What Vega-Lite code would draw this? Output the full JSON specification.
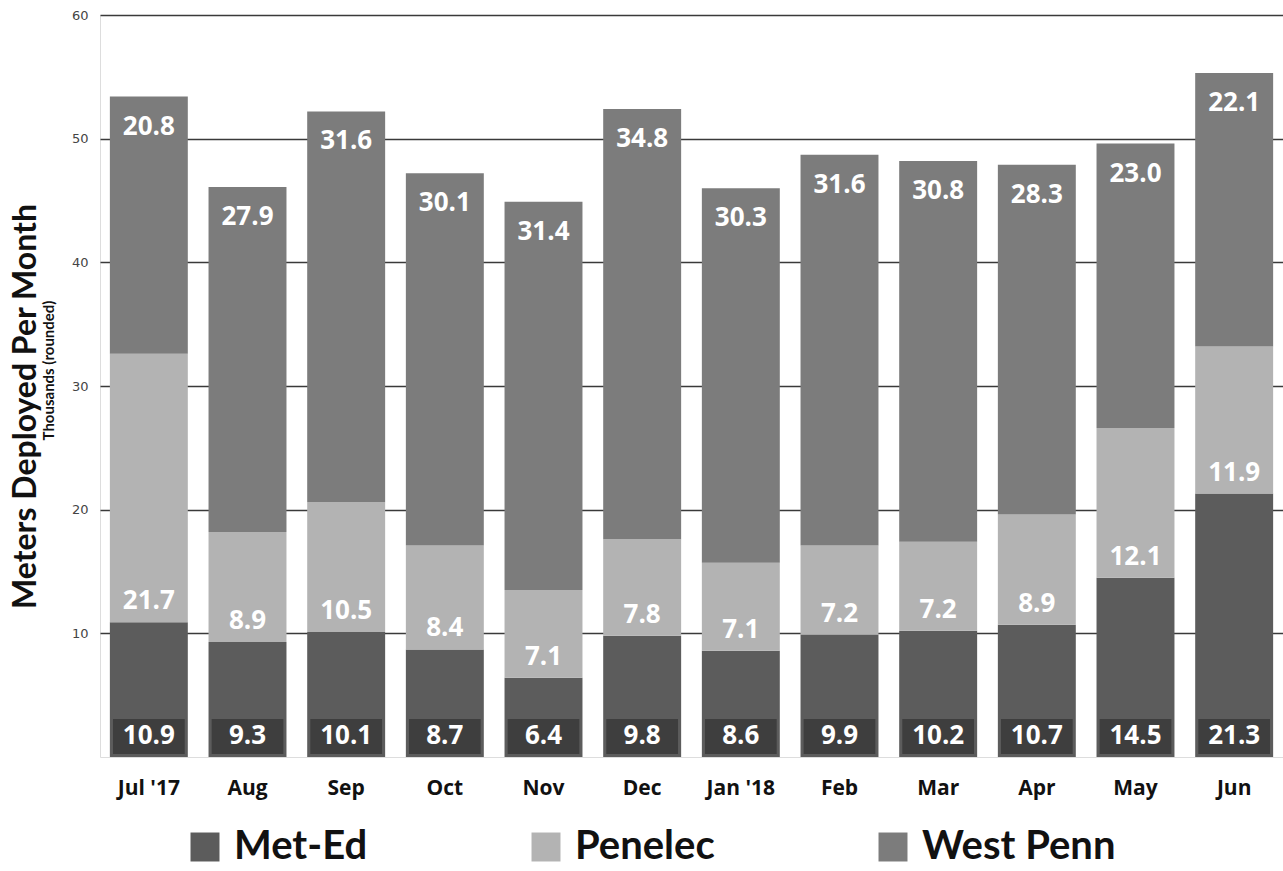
{
  "$schema": "https://vega.github.io/schema/vega-lite/v6.json",
  "width": 1183,
  "height": 742,
  "autosize": "none",
  "padding": {"left": 100, "top": 15, "right": 0, "bottom": 114},
  "background": "white",
  "data": {
    "values": [
      {"month": "Jul '17", "company": "Met-Ed", "order": 1, "value": 10.9},
      {"month": "Jul '17", "company": "Penelec", "order": 2, "value": 21.7},
      {"month": "Jul '17", "company": "West Penn", "order": 3, "value": 20.8},
      {"month": "Aug", "company": "Met-Ed", "order": 1, "value": 9.3},
      {"month": "Aug", "company": "Penelec", "order": 2, "value": 8.9},
      {"month": "Aug", "company": "West Penn", "order": 3, "value": 27.9},
      {"month": "Sep", "company": "Met-Ed", "order": 1, "value": 10.1},
      {"month": "Sep", "company": "Penelec", "order": 2, "value": 10.5},
      {"month": "Sep", "company": "West Penn", "order": 3, "value": 31.6},
      {"month": "Oct", "company": "Met-Ed", "order": 1, "value": 8.7},
      {"month": "Oct", "company": "Penelec", "order": 2, "value": 8.4},
      {"month": "Oct", "company": "West Penn", "order": 3, "value": 30.1},
      {"month": "Nov", "company": "Met-Ed", "order": 1, "value": 6.4},
      {"month": "Nov", "company": "Penelec", "order": 2, "value": 7.1},
      {"month": "Nov", "company": "West Penn", "order": 3, "value": 31.4},
      {"month": "Dec", "company": "Met-Ed", "order": 1, "value": 9.8},
      {"month": "Dec", "company": "Penelec", "order": 2, "value": 7.8},
      {"month": "Dec", "company": "West Penn", "order": 3, "value": 34.8},
      {"month": "Jan '18", "company": "Met-Ed", "order": 1, "value": 8.6},
      {"month": "Jan '18", "company": "Penelec", "order": 2, "value": 7.1},
      {"month": "Jan '18", "company": "West Penn", "order": 3, "value": 30.3},
      {"month": "Feb", "company": "Met-Ed", "order": 1, "value": 9.9},
      {"month": "Feb", "company": "Penelec", "order": 2, "value": 7.2},
      {"month": "Feb", "company": "West Penn", "order": 3, "value": 31.6},
      {"month": "Mar", "company": "Met-Ed", "order": 1, "value": 10.2},
      {"month": "Mar", "company": "Penelec", "order": 2, "value": 7.2},
      {"month": "Mar", "company": "West Penn", "order": 3, "value": 30.8},
      {"month": "Apr", "company": "Met-Ed", "order": 1, "value": 10.7},
      {"month": "Apr", "company": "Penelec", "order": 2, "value": 8.9},
      {"month": "Apr", "company": "West Penn", "order": 3, "value": 28.3},
      {"month": "May", "company": "Met-Ed", "order": 1, "value": 14.5},
      {"month": "May", "company": "Penelec", "order": 2, "value": 12.1},
      {"month": "May", "company": "West Penn", "order": 3, "value": 23.0},
      {"month": "Jun", "company": "Met-Ed", "order": 1, "value": 21.3},
      {"month": "Jun", "company": "Penelec", "order": 2, "value": 11.9},
      {"month": "Jun", "company": "West Penn", "order": 3, "value": 22.1}
    ]
  },
  "transform": [
    {"stack": "value", "groupby": ["month"], "sort": [{"field": "order"}], "as": ["y0", "y1"]}
  ],
  "encoding": {
    "x": {
      "field": "month",
      "type": "nominal",
      "sort": ["Jul '17", "Aug", "Sep", "Oct", "Nov", "Dec", "Jan '18", "Feb", "Mar", "Apr", "May", "Jun"],
      "scale": {"paddingInner": 0.21, "paddingOuter": 0.1},
      "axis": {
        "title": null,
        "labelAngle": 0,
        "labelFont": "Open Sans",
        "labelFontWeight": "bold",
        "labelFontSize": 21,
        "labelColor": "#111111",
        "labelPadding": 20,
        "domain": false,
        "ticks": false,
        "grid": false
      }
    }
  },
  "resolve": {"axis": {"y": "independent"}},
  "layer": [
    {
      "mark": {"type": "bar"},
      "encoding": {
        "y": {
          "field": "y0",
          "type": "quantitative",
          "scale": {"domain": [0, 60]},
          "axis": {
            "title": null,
            "orient": "left",
            "values": [10, 20, 30, 40, 50, 60],
            "domain": false,
            "ticks": false,
            "labelFont": "DejaVu Sans",
            "labelFontSize": 13,
            "labelColor": "#444444",
            "labelPadding": 12,
            "grid": true,
            "gridColor": "#3a3a3a",
            "gridWidth": 1.3,
            "gridOpacity": 1
          }
        },
        "y2": {"field": "y1"},
        "color": {
          "field": "company",
          "type": "nominal",
          "scale": {"domain": ["Met-Ed", "Penelec", "West Penn"], "range": ["#5c5c5c", "#b3b3b3", "#7c7c7c"]},
          "legend": {
            "title": null,
            "orient": "none",
            "direction": "horizontal",
            "legendX": 85,
            "legendY": 812,
            "symbolType": "square",
            "symbolSize": 840,
            "symbolStrokeWidth": 0,
            "labelFont": "Lato",
            "labelFontWeight": "bold",
            "labelFontSize": 40,
            "labelColor": "#111111",
            "labelOffset": 9,
            "columnPadding": 158,
            "labelLimit": 400
          }
        }
      }
    },
    {
      "transform": [{"filter": "datum.company == 'Met-Ed'"}],
      "mark": {"type": "bar", "color": "#3e3e3e", "width": {"band": 0.92}, "yOffset": -3, "y2Offset": -38},
      "encoding": {
        "y": {"field": "y0", "type": "quantitative", "axis": null},
        "y2": {"field": "y0"}
      }
    },
    {
      "transform": [{"filter": "datum.company != 'West Penn'"}],
      "mark": {"type": "text", "font": "Open Sans", "fontWeight": "bold", "fontSize": 26, "color": "white", "baseline": "middle", "dy": -21},
      "encoding": {
        "y": {
          "field": "y0",
          "type": "quantitative",
          "axis": {
            "orient": "left",
            "title": "Meters Deployed Per Month",
            "titleFont": "Lato",
            "titleFontWeight": "bold",
            "titleFontSize": 32,
            "titleColor": "#111111",
            "titleAngle": -90,
            "titleAlign": "center",
            "titleBaseline": "middle",
            "titleX": -75,
            "titleY": 391,
            "labels": false,
            "ticks": false,
            "domain": false,
            "grid": false
          }
        },
        "text": {"field": "value", "type": "quantitative", "format": ".1f"}
      }
    },
    {
      "transform": [{"filter": "datum.company == 'West Penn'"}],
      "mark": {"type": "text", "font": "Open Sans", "fontWeight": "bold", "fontSize": 26, "color": "white", "baseline": "middle", "dy": 30},
      "encoding": {
        "y": {
          "field": "y1",
          "type": "quantitative",
          "axis": {
            "orient": "left",
            "title": "Thousands (rounded)",
            "titleFont": "Lato",
            "titleFontWeight": "bold",
            "titleFontSize": 15,
            "titleColor": "#111111",
            "titleAngle": -90,
            "titleAlign": "center",
            "titleBaseline": "middle",
            "titleX": -52,
            "titleY": 355,
            "labels": false,
            "ticks": false,
            "domain": false,
            "grid": false
          }
        },
        "text": {"field": "value", "type": "quantitative", "format": ".1f"}
      }
    }
  ]
}
